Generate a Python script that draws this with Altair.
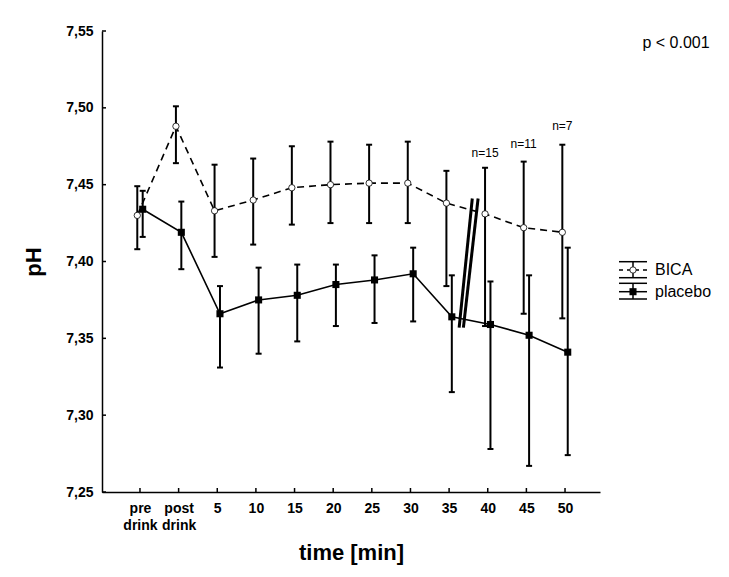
import json
import altair as alt
import pandas as pd

# ---------------- data ----------------
positions = list(range(12))
tick_labels = ["pre drink", "post drink", "5", "10", "15", "20", "25", "30", "35", "40", "45", "50"]

bica_mean = [7.430, 7.488, 7.433, 7.440, 7.448, 7.450, 7.451, 7.451, 7.438, 7.431, 7.422, 7.419]
bica_hi = [7.449, 7.501, 7.463, 7.467, 7.475, 7.478, 7.476, 7.478, 7.459, 7.461, 7.465, 7.476]
bica_lo = [7.408, 7.464, 7.403, 7.411, 7.424, 7.425, 7.425, 7.425, 7.384, 7.358, 7.366, 7.363]

placebo_mean = [7.434, 7.419, 7.366, 7.375, 7.378, 7.385, 7.388, 7.392, 7.364, 7.359, 7.352, 7.341]
placebo_hi = [7.446, 7.439, 7.384, 7.396, 7.398, 7.398, 7.404, 7.409, 7.391, 7.387, 7.391, 7.409]
placebo_lo = [7.416, 7.395, 7.331, 7.340, 7.348, 7.358, 7.360, 7.361, 7.315, 7.278, 7.267, 7.274]

n_label_pos = [9, 10, 11]
n_label_text = ["n=15", "n=11", "n=7"]
n_label_y = [7.4705, 7.4765, 7.4882]

y_ticks = [7.25, 7.30, 7.35, 7.40, 7.45, 7.50, 7.55]

# axis-break marker between 35 and 40 (two slanted strokes)
break_x_bottom = [8.26, 8.37]
break_x_top = [8.60, 8.75]
break_y_bottom = [7.357, 7.357]
break_y_top = [7.441, 7.441]

group_names = ["BICA", "placebo"]
group_shift = [-0.07, 0.07]

# ---------------- build tables ----------------
rows = []
for g, shift, means, los, his in [
    (group_names[0], group_shift[0], bica_mean, bica_lo, bica_hi),
    (group_names[1], group_shift[1], placebo_mean, placebo_lo, placebo_hi),
]:
    for p, m, lo, hi in zip(positions, means, los, his):
        rows.append({"group": g, "pos": p + shift, "mean": m, "lo": lo, "hi": hi})
df = pd.DataFrame(rows)
df_b = df[df.group == "BICA"]
df_p = df[df.group == "placebo"]

FONT = "Liberation Sans"
W, H = 498, 461

label_arr = [t.split(" ") if " " in t else t for t in tick_labels]
x_label_expr = json.dumps(label_arr).replace('"', "'") + "[datum.value]"

x_scale = alt.Scale(domain=[-0.983, 11.905], nice=False, zero=False)
y_scale = alt.Scale(domain=[7.25, 7.55], nice=False, zero=False)

x_axis = alt.Axis(values=positions, labelExpr=x_label_expr, title="time [min]",
                  ticks=False, grid=False, labelPadding=9, titlePadding=10,
                  labelLineHeight=17)
y_axis = alt.Axis(values=y_ticks, labelExpr="replace(format(datum.value, '.2f'), '.', ',')",
                  title="pH", ticks=False, grid=False, labelPadding=9, titlePadding=20)


def X(field="pos"):
    return alt.X(f"{field}:Q", scale=x_scale, axis=x_axis)


def Y(field):
    return alt.Y(f"{field}:Q", scale=y_scale, axis=y_axis)


layers = []

# error bars
for d in (df_b, df_p):
    base = alt.Chart(d)
    layers.append(base.mark_rule(color="black", strokeWidth=2).encode(
        x=X(), y=Y("lo"), y2="hi"))
    for f in ("lo", "hi"):
        layers.append(base.mark_tick(color="black", orient="horizontal", size=6,
                                     thickness=2, opacity=1).encode(x=X(), y=Y(f)))

# lines
layers.append(alt.Chart(df_b).mark_line(color="black", strokeWidth=1.6,
                                        strokeDash=[7, 5]).encode(x=X(), y=Y("mean")))
layers.append(alt.Chart(df_p).mark_line(color="black", strokeWidth=1.6).encode(
    x=X(), y=Y("mean")))

# markers
layers.append(alt.Chart(df_b).mark_point(shape="circle", filled=True, fill="white",
                                         stroke="black", strokeWidth=0.8, size=40,
                                         opacity=1).encode(x=X(), y=Y("mean")))
layers.append(alt.Chart(df_p).mark_square(color="black", size=50, opacity=1).encode(
    x=X(), y=Y("mean")))

# break marker
df_break = pd.DataFrame({"x": break_x_bottom, "x2": break_x_top,
                         "y": break_y_bottom, "y2": break_y_top})
layers.append(alt.Chart(df_break).mark_rule(color="black", strokeWidth=3).encode(
    x=X("x"), x2="x2", y=Y("y"), y2="y2"))

# n labels
df_n = pd.DataFrame({"x": [p + group_shift[0] for p in n_label_pos], "y": n_label_y,
                     "t": n_label_text})
layers.append(alt.Chart(df_n).mark_text(font=FONT, fontSize=12, color="black",
                                        baseline="middle").encode(
    x=X("x"), y=Y("y"), text="t:N"))

# inward axis ticks
df_yt = pd.DataFrame({"v": y_ticks})
layers.append(alt.Chart(df_yt).mark_rule(color="black", strokeWidth=1.5).encode(
    y=Y("v"), x=alt.value(0), x2=alt.value(4)))
df_xt = pd.DataFrame({"v": positions})
layers.append(alt.Chart(df_xt).mark_rule(color="black", strokeWidth=1.5).encode(
    x=X("v"), y=alt.value(H), y2=alt.value(H - 4)))

# p-value annotation
layers.append(alt.Chart(pd.DataFrame({"t": ["p < 0.001"]})).mark_text(
    font=FONT, fontSize=16, color="black", align="center", baseline="middle").encode(
    x=alt.value(574), y=alt.value(12), text="t:N"))

# manual legend (pixel positions relative to plot origin)
gx0, gx1, gxc = 517, 545, 531
leg_rows = [(230.7, 239, 246.7), (252.3, 260.7, 268)]
for gi, (ytop, ymid, ybot) in enumerate(leg_rows):
    for yy in (ytop, ybot):
        layers.append(alt.Chart(pd.DataFrame({"a": [0]})).mark_rule(
            color="black", strokeWidth=1.5).encode(
            x=alt.value(gx0), x2=alt.value(gx1), y=alt.value(yy)))
    layers.append(alt.Chart(pd.DataFrame({"a": [0]})).mark_rule(
        color="black", strokeWidth=1.5).encode(
        x=alt.value(gxc), y=alt.value(ytop), y2=alt.value(ybot)))
    mid = alt.Chart(pd.DataFrame({"a": [0]}))
    if gi == 0:
        layers.append(mid.mark_rule(color="black", strokeWidth=1.5, strokeDash=[4, 4]).encode(
            x=alt.value(gx0), x2=alt.value(gx1), y=alt.value(ymid)))
        layers.append(mid.mark_point(shape="circle", filled=True, fill="white",
                                     stroke="black", strokeWidth=0.8, size=40,
                                     opacity=1).encode(x=alt.value(gxc), y=alt.value(ymid)))
    else:
        layers.append(mid.mark_rule(color="black", strokeWidth=1.5).encode(
            x=alt.value(gx0), x2=alt.value(gx1), y=alt.value(ymid)))
        layers.append(mid.mark_square(color="black", size=50, opacity=1).encode(
            x=alt.value(gxc), y=alt.value(ymid)))
    layers.append(alt.Chart(pd.DataFrame({"t": [group_names[gi]]})).mark_text(
        font=FONT, fontSize=16, color="black", align="left", baseline="middle").encode(
        x=alt.value(553), y=alt.value(ymid), text="t:N"))

chart = alt.layer(*layers).properties(
    width=W, height=H,
    autosize=alt.AutoSizeParams(type="none"),
    padding={"left": 94, "top": 23, "right": 121, "bottom": 77},
).configure_view(stroke=None).configure_axis(
    domainColor="black", domainWidth=1.5, labelColor="black", titleColor="black",
    labelFont=FONT, labelFontWeight="bold", labelFontSize=14,
    titleFont=FONT, titleFontWeight="bold", titleFontSize=22,
).configure_axisX(labelAlign="center", labelBaseline="top")

chart.save("out.html", embed_options={"renderer": "svg", "actions": False})
